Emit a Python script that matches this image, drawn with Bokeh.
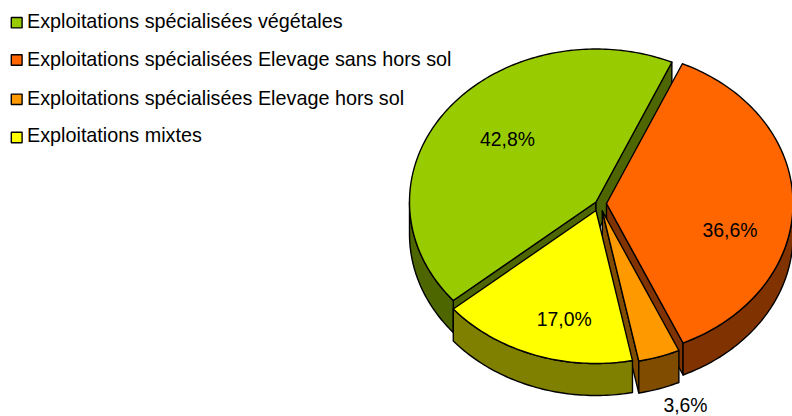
import math
from bokeh.plotting import figure
from bokeh.models import ColumnDataSource
from bokeh.core.properties import value
from bokeh.embed import file_html
from bokeh.resources import INLINE

# Data, in drawing order round the pie (clockwise from the start angle)
categories = [
    "Exploitations spécialisées Elevage sans hors sol",
    "Exploitations spécialisées Elevage hors sol",
    "Exploitations mixtes",
    "Exploitations spécialisées végétales",
]
shares = [36.6, 3.6, 17.0, 42.8]
share_labels = ["36,6%", "3,6%", "17,0%", "42,8%"]
legend_order = [3, 0, 1, 2]

top_colors = ["#FF6600", "#FF9900", "#FFFF00", "#99CC00"]
side_colors = ["#803300", "#804D00", "#808000", "#4D6600"]

# Layout (page pixels)
W, H = 792, 416
A, B, DEPTH = 186.5, 153.0, 32.0
START = 24.0
centers = [(606.0, 203.0), (601.8, 210.5), (595.5, 210.0), (595.5, 201.5)]
label_pos = [(729.5, 229), (685, 404.5), (563.7, 318.5), (507, 138.5)]
legend_mid = [20, 58.5, 97, 134.5]
swatch_mid = [22.2, 59.5, 98.8, 137]
FONT = value("Liberation Sans")
EDGE = "#000000"
LW = 1.4
# which cut faces can be seen: (at start angle, at end angle)
faces_shown = [(False, True), (False, True), (False, False), (True, True)]

p = figure(width=W, height=H, x_range=(0, W), y_range=(H, 0),
           output_backend="svg", toolbar_location=None,
           min_border=0, outline_line_color=None,
           styles={"position": "absolute", "left": "0px", "top": "0px"})
p.axis.visible = False
p.grid.visible = False
p.background_fill_color = "white"
p.border_fill_color = "white"


def pt(c, t):
    r = math.radians(t)
    return c[0] + A * math.sin(r), c[1] - B * math.cos(r)


def arc(c, t0, t1, step=1.0):
    n = max(2, int(abs(t1 - t0) / step) + 1)
    return [pt(c, t0 + (t1 - t0) * i / (n - 1)) for i in range(n)]


def poly(points, color):
    p.patch([q[0] for q in points], [q[1] for q in points],
            fill_color=color, line_color=EDGE, line_width=LW, line_join="round")


def down(points):
    return [(x, y + DEPTH) for x, y in points]


# angular extent of each slice
total = sum(shares)
extent = []
a0 = START
for s in shares:
    a1 = a0 + s / total * 360.0
    extent.append((a0, a1))
    a0 = a1

# painter's order: far slice first, the near ones on top
for i in [3, 0, 1, 2]:
    c, (t0, t1) = centers[i], extent[i]
    side, top = side_colors[i], top_colors[i]
    for t, shown in zip((t0, t1), faces_shown[i]):
        if shown:
            face = [c, pt(c, t)]
            poly(face + down(face)[::-1], side)
    # outer rim: only the front half of the ellipse shows
    lo, hi = max(t0, 90.0), min(t1, 270.0)
    if hi > lo:
        rim = arc(c, lo, hi)
        poly(rim + down(rim)[::-1], side)
    poly([c] + arc(c, t0, t1), top)

# percentage labels
p.text(x=[q[0] for q in label_pos], y=[q[1] for q in label_pos], text=share_labels,
       text_font=FONT, text_font_size="19.4px", text_color="#000000",
       text_align="center", text_baseline="middle")

# legend
names = [categories[i] for i in legend_order]
colors = [top_colors[i] for i in legend_order]
src = ColumnDataSource(dict(
    left=[10.8] * 4, right=[21.6] * 4,
    top=[y - 5.2 for y in swatch_mid], bottom=[y + 5.2 for y in swatch_mid],
    color=colors))
p.quad(left="left", right="right", top="top", bottom="bottom", source=src,
       fill_color="color", line_color="#000000", line_width=1.4)
p.text(x=[26.5] * 4, y=legend_mid, text=names,
       text_font=FONT, text_font_size="19.8px", text_color="#000000",
       text_align="left", text_baseline="middle")

open("out.html", "w").write(file_html(p, INLINE))
